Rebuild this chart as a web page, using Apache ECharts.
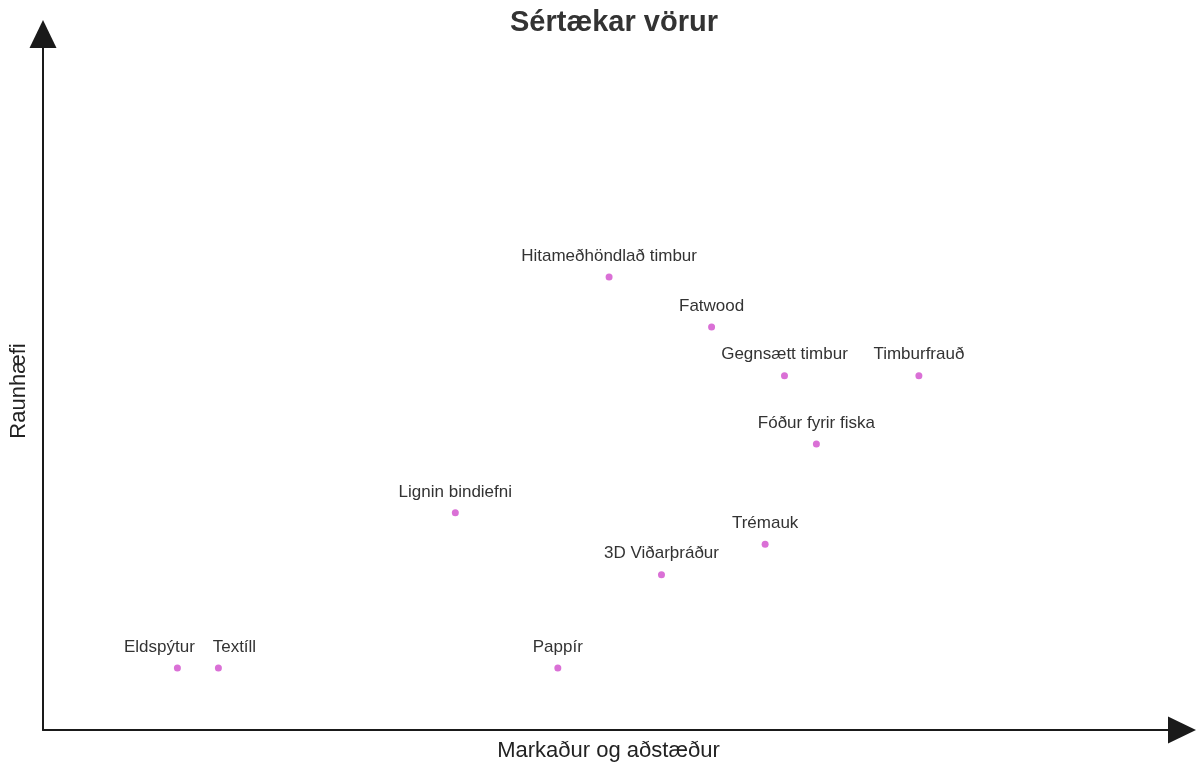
<!DOCTYPE html>
<html>
<head>
<meta charset="utf-8">
<title>Sértækar vörur</title>
<script src="https://cdn.jsdelivr.net/npm/echarts@6/dist/echarts.min.js"></script>
<style>
  html, body { margin: 0; padding: 0; background: #fff; }
  #chart { width: 1198px; height: 765px; }
</style>
</head>
<body>
<div id="chart"></div>
<script>
// vörur og staðsetning þeirra (markaður, raunhæfi)
var names = ['Eldspýtur', 'Textíll', 'Pappír', 'Lignin bindiefni', '3D Viðarþráður',
  'Trémauk', 'Fóður fyrir fiska', 'Gegnsætt timbur', 'Timburfrauð', 'Fatwood',
  'Hitameðhöndlað timbur'];
var market = [11.8, 15.4, 45.2, 36.2, 54.3, 63.4, 67.9, 65.1, 76.9, 58.7, 49.7];
var feasibility = [8.9, 8.9, 8.9, 31.2, 22.3, 26.7, 41.1, 50.9, 50.9, 57.9, 65.1];

// merkimiðar sem skarast eru færðir aðeins til hliðar
var labelShift = { 'Eldspýtur': [-18, 0], 'Textíll': [16, 0] };

var points = names.map(function (n, i) {
  var p = { name: n, value: [market[i], feasibility[i]] };
  if (labelShift[n]) p.label = { offset: labelShift[n] };
  return p;
});

var chart = echarts.init(document.getElementById('chart'));
var font = 'Liberation Sans, Arial, sans-serif';

var axisCommon = {
  type: 'value',
  min: 0,
  max: 100,
  nameLocation: 'middle',
  axisLine: {
    show: true,
    symbol: ['none', 'triangle'],
    symbolSize: [27, 28],
    lineStyle: { color: '#1a1a1a', width: 2 }
  },
  axisTick: { show: false },
  axisLabel: { show: false },
  splitLine: { show: false }
};

var option = {
  animation: false,
  title: {
    text: 'Sértækar vörur',
    left: 505,
    top: 3,
    textStyle: { fontSize: 29, fontWeight: 'bold', color: '#333', fontFamily: font }
  },
  grid: { left: 43, right: 16, top: 34, bottom: 35, containLabel: false, outerBoundsMode: 'none' },
  xAxis: Object.assign({}, axisCommon, {
    name: 'Markaður og aðstæður',
    nameGap: 10,
    nameTextStyle: { fontSize: 22, color: '#222', fontFamily: font, padding: [0, 8, 0, 0] }
  }),
  yAxis: Object.assign({}, axisCommon, {
    name: 'Raunhæfi',
    nameGap: 13,
    nameTextStyle: { fontSize: 22, color: '#222', fontFamily: font, padding: [0, 18, 0, 0] }
  }),
  series: [{
    type: 'scatter',
    symbolSize: 7,
    itemStyle: { color: '#da70d6', opacity: 1 },
    label: {
      show: true,
      position: 'top',
      distance: 9,
      formatter: '{b}',
      fontSize: 17,
      color: '#333',
      fontFamily: font
    },
    data: points
  }]
};
chart.setOption(option);
</script>
</body>
</html>
